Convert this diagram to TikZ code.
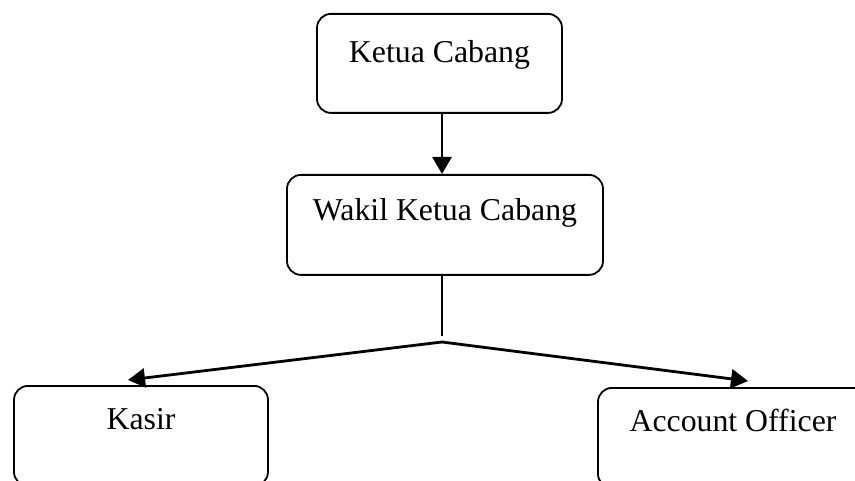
\documentclass[tikz,border=0pt]{standalone}
\usepackage{fontspec}
\setmainfont{Liberation Serif}
\usetikzlibrary{arrows.meta}
\tikzset{
  box/.style={draw, line width=1.8pt, rounded corners=14pt, inner sep=0pt, anchor=north,
    font=\fontsize{31.8}{38}\selectfont},
  conn/.style={line width=2.8pt},
  arr/.style={conn, -{Triangle[length=17pt,width=19pt]}}
}
\begin{document}
\begin{tikzpicture}[x=1pt,y=-1pt]
\clip (0,0) rectangle (855,481);
\fill[white] (0,0) rectangle (855,481);
\node[box, minimum width=245pt, text height=49pt, text depth=50pt] (ketua) at (439.5,13) {Ketua Cabang};
\node[box, minimum width=316pt, text height=46pt, text depth=54pt] (wakil) at (445,174) {Wakil Ketua Cabang};
\node[box, minimum width=254pt, text height=44pt, text depth=56pt] (kasir) at (141,385) {Kasir};
\node[box, minimum width=270pt, text height=44pt, text depth=56pt] (ao) at (733,387) {Account Officer};
\coordinate (hub) at (442,342);
\coordinate (stem) at (442,336);
\coordinate (kasirin) at (128,380);
\coordinate (aoin) at (748,381);
\draw[arr] (hub |- ketua.south) -- (hub |- wakil.north);
\draw[line width=1.8pt] (stem |- wakil.south) -- (stem);
\draw[arr] (hub) -- (kasirin);
\draw[arr] (hub) -- (aoin);
\end{tikzpicture}
\end{document}
